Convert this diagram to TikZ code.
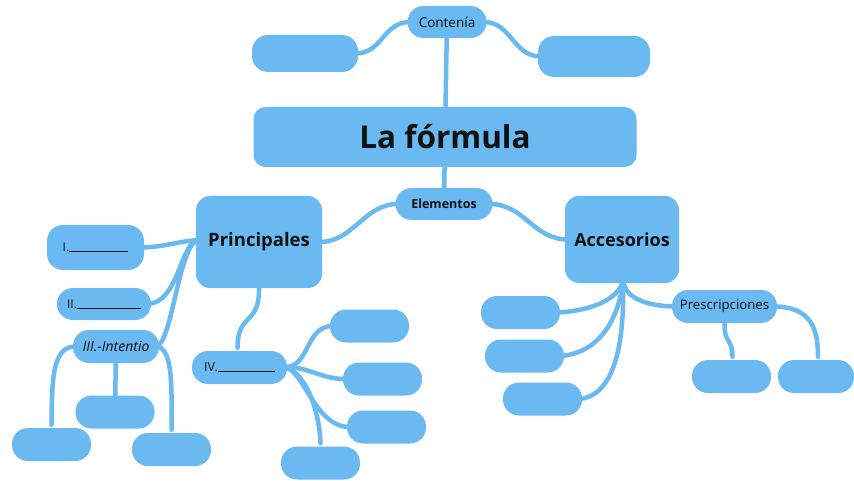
\documentclass[tikz,border=0pt]{standalone}
\usepackage{fontspec}
\setmainfont{Open Sans}
\usetikzlibrary{backgrounds}
\definecolor{nodeblue}{RGB}{106,185,240}
\definecolor{txt}{RGB}{17,17,17}
\tikzset{
  box/.style={fill=nodeblue, rounded corners=#1, inner sep=0pt, text=txt, align=center},
  box/.default=16pt,
  pill/.style={box=16pt},
  blank/.style={pill, minimum width=79pt, minimum height=33pt},
  conn/.style={draw=nodeblue, line width=4.5pt, line cap=round},
}
\begin{document}
\begin{tikzpicture}[x=1pt,y=-1pt]
\useasboundingbox (0,0) rectangle (854,481);
% top
\node[box=12pt, minimum width=383pt, minimum height=60pt, font=\bfseries\fontsize{31.5}{36}\selectfont] (formula) at (445,137) {La fórmula};
\node[pill, minimum width=79pt, minimum height=32pt, font=\fontsize{13.5}{16}\selectfont] (contenia) at (447,22) {Contenía};
\node[blank, minimum width=106pt, minimum height=37pt] (lt) at (305,53.5) {};
\node[blank, minimum width=112pt, minimum height=41pt] (rt) at (594,56.5) {};
\node[pill, minimum width=97pt, minimum height=32pt, font=\bfseries\fontsize{12.5}{15}\selectfont] (elem) at (444,204) {Elementos};
% principales
\node[box=14pt, minimum width=126pt, minimum height=92pt, font=\bfseries\fontsize{18.5}{22}\selectfont] (princ) at (259,242) {Principales};
\node[pill, minimum width=97pt, minimum height=45pt, font=\fontsize{12}{14}\selectfont] (i) at (95.5,247.5) {I.\rule{59pt}{0.6pt}};
\node[pill, minimum width=94pt, minimum height=32pt, font=\fontsize{12}{14}\selectfont] (ii) at (104,304) {II.\rule{64pt}{0.6pt}};
\node[pill, minimum width=86pt, minimum height=33pt, font=\itshape\fontsize{14}{16}\selectfont] (iii) at (116,346.5) {III.-Intentio};
\node[blank] (b2) at (115,412) {};
\node[blank] (b1) at (51.5,444.5) {};
\node[blank] (b3) at (171.5,449.5) {};
\node[pill, minimum width=95pt, minimum height=33pt, font=\fontsize{12.5}{14}\selectfont] (iv) at (239.5,367.5) {IV.\rule{57pt}{0.6pt}};
\node[blank] (c1) at (369.5,326) {};
\node[blank] (c2) at (382.5,379) {};
\node[blank] (c3) at (386.5,427) {};
\node[blank] (c4) at (320.5,463) {};
% accesorios
\node[box=14pt, minimum width=114pt, minimum height=87pt, font=\bfseries\fontsize{18}{22}\selectfont] (acc) at (622,239.5) {Accesorios};
\node[blank] (a1) at (520.5,312.5) {};
\node[blank] (a2) at (524.5,356) {};
\node[blank] (a3) at (542.5,399) {};
\node[pill, minimum width=105pt, minimum height=33pt, font=\fontsize{13.2}{15}\selectfont] (presc) at (724.5,306.5) {Prescripciones};
\node[blank] (p1) at (731.5,376.5) {};
\node[blank, minimum width=76pt] (p2) at (816,376.5) {};
\begin{scope}[on background layer]
\draw[conn] (contenia.center) -- (formula.center);
\draw[conn] ([xshift=3pt]contenia.west) .. controls +(-28,0) and +(28,0) .. ([xshift=-3pt]lt.east);
\draw[conn] ([xshift=-3pt]contenia.east) .. controls +(28,0) and +(-28,0) .. ([xshift=3pt]rt.west);
\draw[conn] (formula.center) -- (elem.center);
\draw[conn] ([xshift=3pt]elem.west) .. controls +(-35,0) and +(35,0) .. ([xshift=-3pt]princ.east);
\draw[conn] ([xshift=-3pt]elem.east) .. controls +(35,0) and +(-35,0) .. ([xshift=3pt]acc.west);
% principales fan
\coordinate (pf) at (197,240);
\draw[conn] (pf) .. controls (175,242) and (165,247) .. ([xshift=-3pt]i.east);
\draw[conn] (pf) .. controls (180,246) and (178,302) .. ([xshift=-3pt]ii.east);
\draw[conn] (pf) .. controls (178,250) and (172,343) .. ([xshift=-3pt]iii.east);
\draw[conn] (princ.center) -- ([yshift=-2pt]princ.south) .. controls +(0,35) and +(0,-35) .. ([xshift=-2pt,yshift=3pt]iv.north);
% III
\draw[conn] ([xshift=3pt]iii.west) .. controls (52,346) and (52,380) .. ([yshift=3pt]b1.north);
\draw[conn] (iii.center) -- (b2.center);
\draw[conn] ([xshift=-3pt]iii.east) .. controls (172,348) and (172,380) .. ([yshift=3pt]b3.north);
% IV fan
\coordinate (ivf) at (285,367);
\draw[conn] (ivf) .. controls (310,367) and (305,326) .. ([xshift=3pt]c1.west);
\draw[conn] (ivf) .. controls (310,367) and (320,379) .. ([xshift=3pt]c2.west);
\draw[conn] (ivf) .. controls (305,372) and (315,427) .. ([xshift=3pt]c3.west);
\draw[conn] (ivf) .. controls (310,375) and (320,420) .. ([yshift=3pt]c4.north);
% Accesorios fan
\coordinate (af) at (623,281);
\draw[conn] (af) .. controls (618,300) and (590,311) .. ([xshift=-3pt]a1.east);
\draw[conn] (af) .. controls (620,310) and (605,352) .. ([xshift=-3pt]a2.east);
\draw[conn] (af) .. controls (624,320) and (622,395) .. ([xshift=-3pt]a3.east);
\draw[conn] (af) .. controls (626,300) and (650,306) .. ([xshift=3pt]presc.west);
% Prescripciones
\draw[conn] (presc.center) -- ([yshift=-2pt]presc.south) .. controls +(0,18) and +(0,-18) .. ([xshift=1pt,yshift=3pt]p1.north);
\draw[conn] ([xshift=-3pt]presc.east) .. controls (812,307) and (818,330) .. ([xshift=2pt,yshift=3pt]p2.north);
\end{scope}
\end{tikzpicture}
\end{document}
